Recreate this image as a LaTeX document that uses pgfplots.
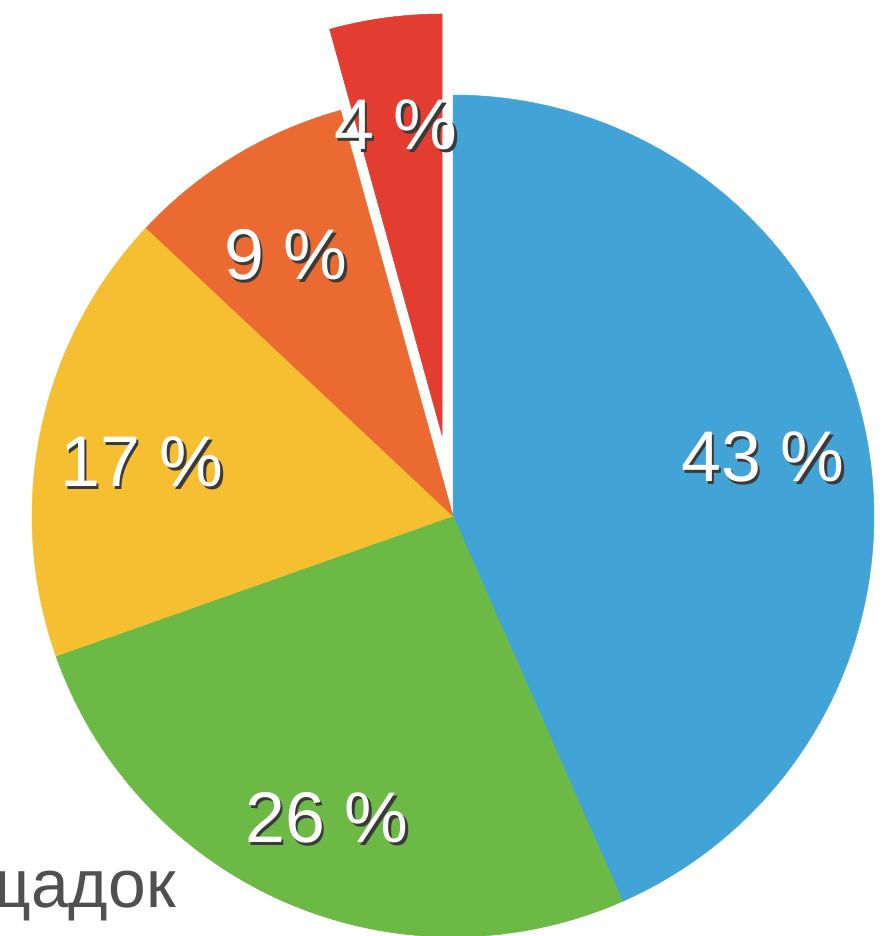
\documentclass[border=0pt]{standalone}
\usepackage{pgfplots}
\pgfplotsset{compat=1.18}
\usepackage{fontspec}
\setmainfont{Liberation Sans}
\definecolor{cblue}{HTML}{42A3D7}
\definecolor{cgreen}{HTML}{6CB945}
\definecolor{cyellow}{HTML}{F5BF31}
\definecolor{corange}{HTML}{EA6A32}
\definecolor{cred}{HTML}{E33D32}
\definecolor{ctext}{HTML}{505050}
\definecolor{cshadow}{HTML}{3A3A3A}
% slice values (percent)
\def\va{43.4}\def\vb{26.2}\def\vc{17.4}\def\vd{8.7}\def\ve{4.3}
\pgfmathsetmacro{\cA}{0}
\pgfmathsetmacro{\cB}{\va}
\pgfmathsetmacro{\cC}{\va+\vb}
\pgfmathsetmacro{\cD}{\va+\vb+\vc}
\pgfmathsetmacro{\cE}{\va+\vb+\vc+\vd}
\pgfmathsetmacro{\cF}{\va+\vb+\vc+\vd+\ve}
\def\R{421}
% #1 start %, #2 end %, #3 colour, #4 centre x, #5 centre y
\newcommand{\slice}[5]{%
  \pgfmathsetmacro{\aS}{90-3.6*#1}\pgfmathsetmacro{\aE}{90-3.6*#2}%
  \addplot[fill=#3, draw=#3, line width=0.5pt, domain=\aE:\aS, samples=90, variable=\t]
    ({#4+\R*cos(\t)},{#5+\R*sin(\t)}) -- (axis cs:#4,#5) -- cycle;}
\newcommand{\lab}[3]{%
  \node[text=white, font=\fontsize{72}{72}\selectfont] at (axis cs:#1,#2)
    {\rlap{\hspace{2.5bp}\raisebox{-3bp}{\color{cshadow}#3}}#3};}
\begin{document}
\begin{tikzpicture}
\path[use as bounding box] (0,0) rectangle (886bp,936bp);
\clip (0,0) rectangle (886bp,936bp);
\begin{axis}[at={(0,0)}, anchor=south west, scale only axis, width=886bp, height=936bp,
  xmin=0, xmax=886, ymin=0, ymax=936, hide axis, clip=false]
\slice{\cA}{\cB}{cblue}{453}{420}
\slice{\cB}{\cC}{cgreen}{453}{420}
\slice{\cC}{\cD}{cyellow}{453}{420}
\slice{\cD}{\cE}{corange}{453}{420}
\slice{\cE}{\cF}{cred}{442}{501}
\lab{763}{478}{43 \%}
\lab{327}{117}{26 \%}
\lab{142}{473}{17 \%}
\lab{286}{680}{9 \%}
\lab{396}{810}{4 \%}
\node[anchor=base east, inner sep=0, text=ctext, font=\fontsize{68}{68}\selectfont] at (axis cs:176,28) {площадок};
\end{axis}
\end{tikzpicture}
\end{document}
